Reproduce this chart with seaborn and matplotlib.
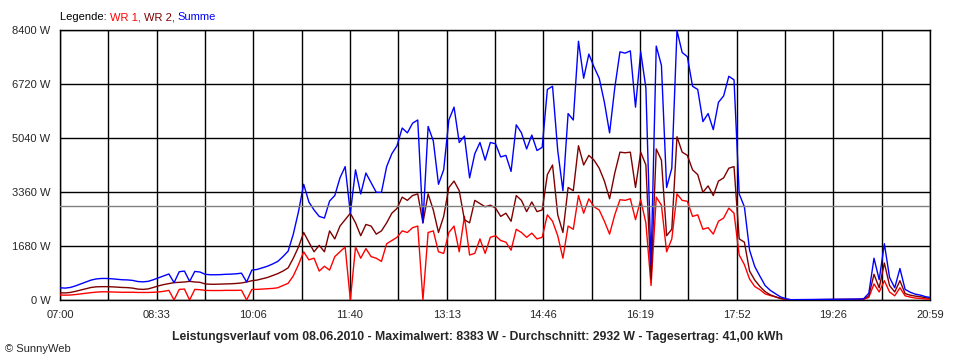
import numpy as np
import pandas as pd
import seaborn as sns
import matplotlib.pyplot as plt

# 5-minute values from 07:00, Watt (None = no data)
wr1 = [155, 150, 155, 170, 190, 210, 230, 245, 255, 255, 250, 245, 240, 240, 240, 235,
       235, 235, 240, 250, 270, 300, 0, 330, 340, 0, 330, 320,
       300, 295, 295, 295, 300, 300, 300, 305, 0, 330, 330, 340, 350, 360, 380, 450,
       520, 750, 1100, 1500, 1250, 1300, 900, 1050, 930, 1350, 1500, 1650,
       0, 1650, 1300, 1600, 1350, 1300, 1200, 1750, 1850, 1950, 2150, 2100, 2250, 2300,
       0, 2100, 2150, 1500, 1450, 2100, 2300, 1500, 2600, 1400, 1450, 1900, 1450, 1950,
       2000, 1850, 1800, 1550, 2200, 2100, 1950, 2080, 1900, 1950, 2650, 2450, 2000, 1300,
       2300, 2200, 3250, 2700, 3150, 2900, 2800, 2450, 2050, 2650, 3120, 3100, 3150, 2500,
       3120, 2400, 450, 3200, 2950, 1500, 1900, 3300, 3100, 3070, 2600, 2650, 2200, 2250,
       2050, 2450, 2550, 2860, 2700, 1400, 1100, 650, 420, 320, 190, 140, 95, 50, 20, 5,
       None, None, None, None, None, None, None, None, None, None, None,
       15, 15, 20, 80, 500, 250, 600, 250, 130, 380, 130, 90, 60, 50, 30, 25]
wr2 = [225, 220, 235, 270, 310, 350, 390, 410, 415, 415, 410, 400, 390, 385, 370, 340,
       330, 345, 390, 440, 480, 510, 540, 550, 560, 580, 560, 550,
       500, 490, 490, 495, 500, 505, 515, 530, 560, 600, 620, 660, 700, 760, 820, 900,
       1000, 1300, 1650, 2100, 1800, 1500, 1700, 1500, 2150, 1900, 2300, 2500,
       2700, 2400, 2000, 2350, 2300, 2050, 2150, 2400, 2700, 2850, 3200, 3100, 3250, 3300,
       2400, 3300, 2800, 2100, 2600, 3500, 3700, 3400, 2500, 2400, 3100, 3000, 2900, 2950,
       2860, 2600, 2700, 2450, 3250, 3100, 2750, 3050, 2750, 2800, 3900, 4200, 2650, 2100,
       3500, 3400, 4800, 4200, 4500, 4350, 4100, 3700, 3150, 3950, 4600, 4580, 4600, 3500,
       4600, 4200, 650, 4700, 4350, 2000, 2200, 5080, 4600, 4500, 4050, 3900, 3350, 3550,
       3250, 3700, 3800, 4100, 4150, 1900, 1800, 900, 620, 420, 260, 160, 100, 45, 20, 5,
       None, None, None, None, None, None, None, None, None, None, None,
       15, 15, 20, 130, 800, 380, 1150, 450, 250, 600, 200, 150, 120, 100, 70, 50]

tick_labels = ["07:00", "08:33", "10:06", "11:40", "13:13",
               "14:46", "16:19", "17:52", "19:26", "20:59"]
y_ticks = [0, 1680, 3360, 5040, 6720, 8400]
average = 2932
day_minutes = 839

df = pd.DataFrame({"WR 1": wr1, "WR 2": wr2}, dtype=float)
df["min"] = np.arange(len(df)) * 5
df["Summe"] = df["WR 1"] + df["WR 2"]

sns.set_style("white")
plt.rcParams["font.family"] = ["Liberation Sans", "DejaVu Sans"]

fig = plt.figure(figsize=(9.6, 3.6), dpi=100)
ax = fig.add_axes([60 / 960, 60 / 360, 870 / 960, 270 / 360])

colors = {"WR 1": "#ff0000", "WR 2": "#800000", "Summe": "#0000ff"}
for name in ["WR 1", "WR 2", "Summe"]:
    sns.lineplot(x=df["min"], y=df[name], ax=ax, color=colors[name],
                 linewidth=1, zorder=3)

ax.axhline(average, color="#808080", linewidth=1, zorder=4)

# grid every half label step
xt = np.linspace(0, day_minutes, 19)
ax.set_xticks(xt)
ax.set_xticklabels([tick_labels[i // 2] if i % 2 == 0 else "" for i in range(19)])
ax.set_yticks(y_ticks)
ax.set_yticklabels([f"{v} W" for v in y_ticks])
ax.set_xlim(0, day_minutes)
ax.set_ylim(0, 8400)
ax.grid(True, color="black", linewidth=1, zorder=1)
ax.set_axisbelow(True)
ax.tick_params(length=4, width=1, color="black", labelsize=8, pad=3)
ax.set_xlabel("")
ax.set_ylabel("")
for sp in ax.spines.values():
    sp.set_color("black")
    sp.set_linewidth(1)

# legend line at the top
fig.canvas.draw()
renderer = fig.canvas.get_renderer()
x = 60 / 960
for txt, col in [("Legende: ", "black"), ("WR 1, ", "#ff0000"),
                 ("WR 2, ", "#800000"), ("Summe", "#0000ff")]:
    t = fig.text(x, 1 - 17 / 360, txt, color=col, fontsize=8, va="center")
    bb = t.get_window_extent(renderer)
    x += bb.width / fig.bbox.width

fig.text(478 / 960, 1 - 337 / 360,
         "Leistungsverlauf vom 08.06.2010 - Maximalwert: 8383 W - "
         "Durchschnitt: 2932 W - Tagesertrag: 41,00 kWh",
         ha="center", va="center", fontsize=8.8, fontweight="bold")
fig.text(5 / 960, 1 - 349 / 360, "© SunnyWeb", fontsize=8, va="center")

plt.savefig("out.png", dpi=100)
